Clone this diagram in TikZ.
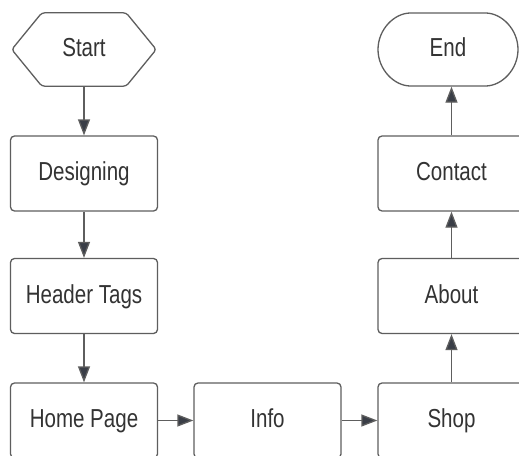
\documentclass[tikz,border=0pt]{standalone}
\usepackage{fontspec}
\newfontfamily\lblfont{Liberation Sans}[FakeStretch=0.79]
\usetikzlibrary{arrows.meta,shapes.misc}
\definecolor{edgegrey}{HTML}{5E5E5E}
\definecolor{tipcol}{HTML}{3A3E47}
\definecolor{txtcol}{HTML}{333333}
\tikzset{
  txt/.style={font=\lblfont\fontsize{26}{30}\selectfont, text=txtcol,
    text height=19pt, text depth=5pt},
  stepbox/.style={txt, draw=edgegrey, line width=1.3pt, rounded corners=4pt, fill=white,
    minimum width=147pt, minimum height=75pt, inner sep=0pt},
  termbox/.style={stepbox, rounded rectangle, minimum width=140pt, minimum height=73pt},
  plainbox/.style={txt, minimum width=144pt, minimum height=73pt, inner sep=0pt},
  flow/.style={draw=edgegrey, line width=1.3pt,
    -{Triangle[length=16pt,width=12pt,fill=tipcol]}}
}
\begin{document}
\begin{tikzpicture}[x=1pt,y=-1pt]
\useasboundingbox (0,0) rectangle (519,455);
\clip (0,0) rectangle (519,455);
\fill[white] (0,0) rectangle (519,455);
% Start hexagon
\node[plainbox] (start) at (84,49.5) {Start};
\draw[draw=edgegrey, line width=1.3pt, rounded corners=3pt]
  (start.west) -- ([xshift=30pt]start.north west) -- ([xshift=-30pt]start.north east)
  -- (start.east) -- ([xshift=-30pt]start.south east) -- ([xshift=30pt]start.south west) -- cycle;
\node[stepbox] (design) at (84,173.5) {Designing};
\node[stepbox] (header) at (84,296) {Header Tags};
\node[stepbox] (home) at (84,420.5) {Home Page};
\node[stepbox] (info) at (267.5,420.5) {Info};
\node[stepbox] (shop) at (451.5,420.5) {Shop};
\node[stepbox] (about) at (451.5,296) {About};
\node[stepbox] (contact) at (451.5,173.5) {Contact};
\node[termbox] (end) at (448,49.5) {End};
\draw[flow] (start.south) -- (design.north);
\draw[flow] (design.south) -- (header.north);
\draw[flow] (header.south) -- (home.north);
\draw[flow] (home.east) -- (info.west);
\draw[flow] (info.east) -- (shop.west);
\draw[flow] (shop.north) -- (about.south);
\draw[flow] (about.north) -- (contact.south);
\draw[flow] (contact.north) -- (end.south -| contact.north);
\end{tikzpicture}
\end{document}
